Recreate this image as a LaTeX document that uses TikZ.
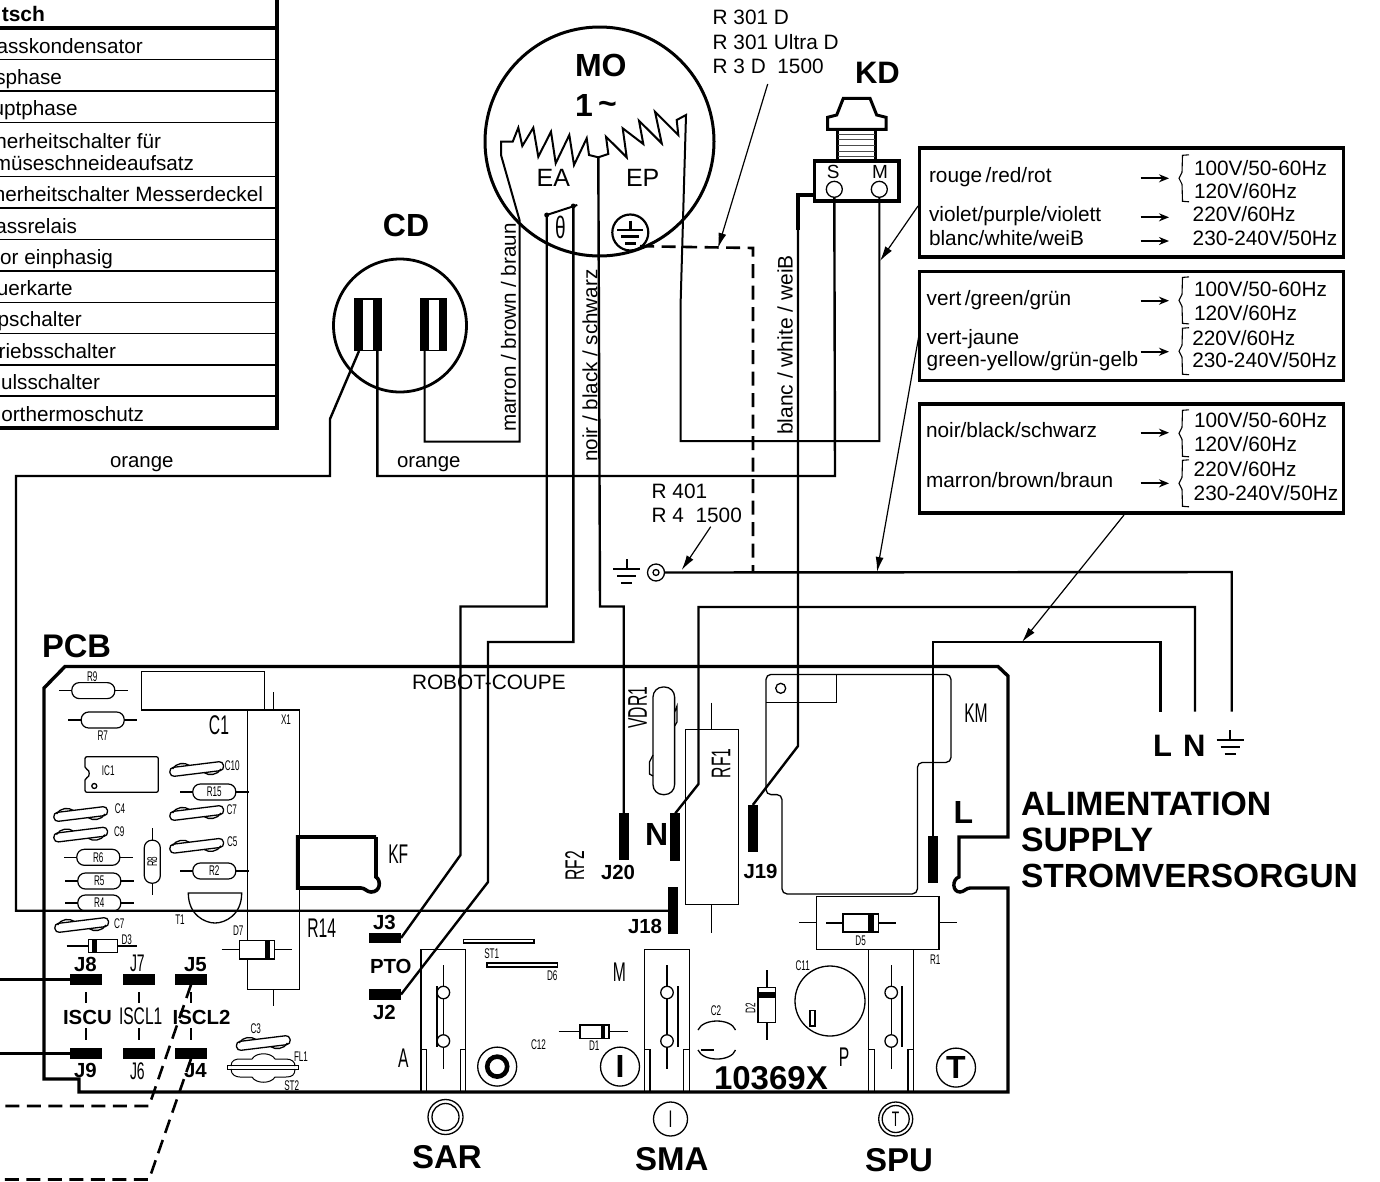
\documentclass[tikz,border=0pt]{standalone}
\usepackage{fontspec}
\usepackage{graphicx}
\setmainfont{Liberation Sans}
\usetikzlibrary{arrows.meta,calc}
\newcommand{\lettre}[1]{\scalebox{0.58}[1]{#1}}
\tikzstyle{wire}  =[line width=2.4pt, line join=miter]
\tikzstyle{dashwire}=[line width=2.6pt, dash pattern=on 14pt off 7.5pt]
\tikzstyle{heavy}=[line width=3.4pt, line join=miter]
\tikzstyle{fine}  =[line width=1.3pt]
\tikzstyle{pointer}=[line width=1.2pt, -{Latex[length=15pt,width=8pt]}]
\tikzstyle{smallarrow}=[line width=2pt, -{Stealth[length=10pt,width=8pt]}]
\tikzstyle{txt}   =[inner sep=0pt, outer sep=0pt, anchor=base west, font=\fontsize{20.8}{24}\selectfont]
\tikzstyle{cell}  =[inner sep=0pt, outer sep=0pt, anchor=base east, font=\fontsize{20.7}{24}\selectfont]
\tikzstyle{side}  =[inner sep=0pt, outer sep=0pt, rotate=90, font=\fontsize{20.6}{24}\selectfont]
\tikzstyle{jlab}  =[inner sep=0pt, outer sep=0pt, anchor=base west, font=\fontsize{20.4}{24}\bfseries]
\tikzstyle{big}   =[inner sep=0pt, outer sep=0pt, anchor=base west, font=\fontsize{33}{36}\bfseries]
\tikzstyle{mini}  =[inner sep=0pt, outer sep=0pt, font=\fontsize{14}{16}\selectfont]
\tikzstyle{maxi}  =[inner sep=0pt, outer sep=0pt, font=\fontsize{27}{30}\selectfont]
\tikzstyle{padh}  =[fill=black, inner sep=0pt, outer sep=0pt, minimum width=32pt, minimum height=10.5pt]
\tikzstyle{padv}  =[fill=black, inner sep=0pt, outer sep=0pt, minimum width=10pt, minimum height=47.5pt]
\tikzstyle{ring}  =[circle, draw, inner sep=0pt, outer sep=0pt, line width=1.3pt]
\tikzstyle{blob}  =[circle, fill=black, inner sep=0pt, outer sep=0pt, minimum size=5pt]
\tikzstyle{resistor}=[draw, rounded corners=7.5pt, inner sep=0pt, outer sep=0pt, minimum width=43pt, minimum height=16pt, line width=1.2pt, font=\fontsize{14}{16}\selectfont]
\tikzstyle{colorbox}=[draw, inner sep=0pt, outer sep=0pt, minimum width=424pt, minimum height=109pt, line width=3.4pt]
\tikzset{
  capa/.pic={
    \draw [fine, rounded corners=4pt] (-27,-4.5) rectangle (27,4.5);
    \draw [fine] (-24,-3) .. controls (-20,-8.5) and (-11,-8.5) .. (-7,-4.5);
    \draw [fine] (24,3) .. controls (20,8.5) and (11,8.5) .. (7,4.5);
  },
  bracket/.pic={
    \draw [line width=1.1pt] (10,-23.5) -- (3.5,-23) -- (3,-6) -- (0,0) -- (3,6) -- (3.5,23) -- (10,23.5);
  },
  ground/.pic={
    \draw [wire] (0,-10) -- (0,0) (-13.5,0) -- (13.5,0) (-9.5,7) -- (9.5,7) (-5.5,14) -- (5.5,14);
  },
  diodeh/.pic={
    \draw [fine, fill=white] (-16,-7) rectangle (16,7);
    \fill (7,-7) rectangle (12,7);
  },
}
\begin{document}
\begin{tikzpicture}[x=1pt,y=-1pt]
    \useasboundingbox (0,0) rectangle (1380,1181);

    \begin{scope}[]
        \draw [heavy] (277,0) -- (277,428) -- (0,428) (0,28) -- (277,28);
        \foreach \y in {59.5,91,122.5,176.5,208,239.5,271,302.5,333.5,365,396}
            \draw [fine] (0,\y) -- (277,\y);
        \draw (45,21) node (head) [cell, font=\fontsize{21}{24}\bfseries] {tsch};
        \foreach \t/\x/\y [count=\i] in {asskondensator/142.7/53, sphase/62/84, uptphase/77.7/115,
            herheitschalter für/161/148, müseschneideaufsatz/194/170,
            herheitschalter Messerdeckel/263/201, assrelais/77/233, or einphasig/113/264,
            uerkarte/72.7/295, pschalter/81.7/326.5, riebsschalter/116/358, ulsschalter/100/389,
            orthermoschutz/144/421}
            \draw (\x,\y) node (row\i) [cell] {\t};
    \end{scope}

    \begin{scope}[]
        \draw (599.5,141.5) node (mo) [ring, line width=3pt, minimum size=229pt] {};
        \draw (630.3,232.5) node (moearth) [ring, line width=2.2pt, minimum size=36pt] {};
        \path (630.3,230) pic [scale=0.95] {ground};
        \draw (400,325.5) node (cd) [ring, line width=2.8pt, minimum size=133pt] {};
        \draw (368,324.7) node (cd1) [fill=black, inner sep=0pt, outer sep=0pt, minimum width=28pt, minimum height=53pt] {};
        \draw (368,324.7) node (cd1w) [fill=white, inner sep=0pt, outer sep=0pt, minimum width=10.5pt, minimum height=50pt] {};
        \draw (433.7,324.7) node (cd2) [fill=black, inner sep=0pt, outer sep=0pt, minimum width=27.5pt, minimum height=53pt] {};
        \draw (434.3,324.7) node (cd2w) [fill=white, inner sep=0pt, outer sep=0pt, minimum width=10pt, minimum height=50pt] {};
        \coordinate (cd1a) at (359,351);
        \coordinate (cd1b) at (377.3,351);
        \coordinate (cd2a) at (424.7,351);
        \coordinate (th1) at (546.7,215);
        \coordinate (th2) at (573.3,206);
        \coordinate (mid) at (598.3,157.3);
        \draw (th1) node (blob1) [blob] {};
        \draw (th2) node (blob2) [blob] {};

        \draw (575,76.7) node (tmo) [big, font=\fontsize{32}{36}\bfseries] {MO};
        \draw (575,116.7) node (tone) [big, font=\fontsize{32}{36}\bfseries] {1\,\raisebox{2pt}{\textasciitilde}};
        \draw (536.7,186.7) node (tea) [txt, font=\fontsize{25}{28}\selectfont] {EA};
        \draw (626,186.7) node (tep) [txt, font=\fontsize{25}{28}\selectfont] {EP};
        \draw (560.3,227.5) node (ttheta) [inner sep=0pt, font=\fontsize{20}{24}\selectfont] {\scalebox{0.95}[1.55]{θ}};
        \draw (406,236) node (tcd) [big, anchor=base, font=\fontsize{32}{36}\bfseries] {CD};
        \draw (855,83) node (tkd) [big, font=\fontsize{31}{36}\bfseries] {KD};
        \draw (712.7,24) node (r1) [txt] {R 301 D};
        \draw (712.7,49) node (r2) [txt] {R 301 Ultra D};
        \draw (712.7,73.3) node (r3) [txt] {R 3 D\ \ 1500};
        \draw (651.7,498) node (r4) [txt] {R 401};
        \draw (651.7,522) node (r5) [txt] {R 4\ \ 1500};
        \draw (508.5,327.5) node (smarron) [side] {marron / brown / braun};
        \draw (590,365.7) node (snoir) [side] {noir / black / schwarz};
        \draw (785,345) node (sblanc) [side, font=\fontsize{21}{24}\selectfont] {blanc / white / weiB};
        \draw (110,467) node (o1) [txt, font=\fontsize{20.4}{24}\selectfont] {orange};
        \draw (397,467) node (o2) [txt, font=\fontsize{20.4}{24}\selectfont] {orange};
    \end{scope}

    \begin{scope}[]
        \draw [heavy, fill=white, line width=3pt] (843.3,98.3) -- (870,98.3) -- (876.7,115) -- (886,117.3) -- (886,129.3) -- (827.7,129.3) -- (827.7,117.3) -- (836.7,115) -- cycle;
        \draw [heavy, line width=3pt] (837.7,129.3) rectangle (875.7,161);
        \foreach \y in {134,139.5,145.5,151.5,156.5}
            \draw [line width=0.8pt, black!70] (838,\y) -- (875,\y);
        \draw [heavy] (814.3,161) rectangle (899,201);
        \draw (833.3,178.5) node (ts) [txt, anchor=base, font=\fontsize{19}{22}\selectfont] {S};
        \draw (880,178.5) node (tm) [txt, anchor=base, font=\fontsize{19}{22}\selectfont] {M};
        \draw (834.3,189.3) node (kds) [ring, minimum size=16pt] {};
        \draw (879.3,189.3) node (kdm) [ring, minimum size=16pt] {};
        \coordinate (kdw) at (814.3,195);
        \draw [line width=4.6pt, line join=miter] (kdw) -- (798,195) -- (798,230);
    \end{scope}

    \begin{scope}[]
        \draw (919.3,148) ++(212,54.5) node (box1) [colorbox] {};
        \draw (929,182.3) node (a1) [txt] {rouge\,/red/rot};
        \draw (929,221.7) node (a2) [txt] {violet/purple/violett};
        \draw (929,245) node (a3) [txt] {blanc/white/weiB};
        \draw (1194,175) node (a4) [txt] {100V/50-60Hz};
        \draw (1194,198.3) node (a5) [txt] {120V/60Hz};
        \draw (1192.7,221.7) node (a6) [txt] {220V/60Hz};
        \draw (1192.7,245.7) node (a7) [txt] {230-240V/50Hz};

        \draw (919.3,271.5) ++(212,54.5) node (box2) [colorbox] {};
        \draw (926.7,305.7) node (b1) [txt] {vert\,/green/grün};
        \draw (926.7,344) node (b2) [txt] {vert-jaune};
        \draw (926.7,366.7) node (b3) [txt] {green-yellow/grün-gelb};
        \draw (1194,296.7) node (b4) [txt] {100V/50-60Hz};
        \draw (1194,320) node (b5) [txt] {120V/60Hz};
        \draw (1192.3,345) node (b6) [txt] {220V/60Hz};
        \draw (1192.3,367.7) node (b7) [txt] {230-240V/50Hz};

        \draw (919.3,404) ++(212,54.5) node (box3) [colorbox] {};
        \draw (926,437.3) node (c1) [txt] {noir/black/schwarz};
        \draw (926,487.7) node (c2) [txt] {marron/brown/braun};
        \draw (1194,427.7) node (c4) [txt] {100V/50-60Hz};
        \draw (1194,451.7) node (c5) [txt] {120V/60Hz};
        \draw (1193.7,476) node (c6) [txt] {220V/60Hz};
        \draw (1193.7,500) node (c7) [txt] {230-240V/50Hz};

        \foreach \y in {178.3,217.3,241,300.7,351.7,432.7,483.3}
            \draw [smallarrow] (1140.7,\y) -- (1169,\y);
        \foreach \y in {178.3,300.4,351.2,433.3,483.3}
            \path (1179,\y) pic {bracket};
    \end{scope}

    \begin{scope}[]
        \path (626.7,569) pic {ground};
        \draw (656,572.5) node (eye) [ring, minimum size=17pt] {};
        \draw (656,572.5) node (eyein) [ring, minimum size=6pt] {};
        \path (1230,740) pic {ground};
        \coordinate (el) at (1160.3,711.5);
        \coordinate (en) at (1195,711.5);
        \coordinate (ee) at (1231.7,711.5);
        \draw (1153,756) node (tl) [big, font=\fontsize{31}{36}\bfseries] {L};
        \draw (1183,756) node (tn) [big, font=\fontsize{31}{36}\bfseries] {N};
        \draw (1021,815) node (s1) [big, font=\fontsize{33.8}{36}\bfseries] {ALIMENTATION};
        \draw (1021,851.7) node (s2) [big, font=\fontsize{33.8}{36}\bfseries] {SUPPLY};
        \draw (1021,887.7) node (s3) [big, font=\fontsize{33.5}{36}\bfseries] {STROMVERSORGUN};
        \draw (42,657) node (tpcb) [big, font=\fontsize{32.7}{36}\bfseries] {PCB};
    \end{scope}

    \begin{scope}[]
        \draw [heavy] (44,688) -- (65,666.5) -- (998,666.5) -- (1008,676) -- (1008,837) -- (959,837) -- (959,877)
            .. controls (952,879) and (952,892) .. (960,892) .. controls (964,892) and (966,888) .. (970,888)
            -- (1008,888) -- (1008,1092) -- (79,1092) -- (79,1079) -- (44,1079) -- cycle;

        \draw (412,689) node (trobot) [txt] {ROBOT-COUPE};
        \draw (714,1089.6) node (tnum) [big] {10369X};

        \draw [fine] (141.7,671.3) rectangle (264.3,710);
        \draw [fine] (247.3,710) rectangle (299.3,989.4);
        \draw [fine] (273.3,692) -- (273.3,710) (273.3,989.4) -- (273.3,1006.3);
        \draw [fine, rounded corners=2pt] (85,756.7) -- (158.3,756.7) -- (158.3,792.3) -- (85,792.3) -- (85,778)
            .. controls (90,777) and (90,770) .. (85,769) -- cycle;
        \draw (94.3,786) node (ic) [ring, minimum size=5pt] {};

        \foreach \n/\x/\y/\t in {r9/93.3/690.6/{}, r7/102.7/720/{}, r15/214.3/792/\lettre{R15}, r6/98.3/857.3/\lettre{R6},
            r5/99.3/881/\lettre{R5}, r2/214.3/871/\lettre{R2}, r4/99.3/903/\lettre{R4}}
        {
            \draw (\x,\y) node (\n) [resistor] {\t};
            \draw [fine] (\n.west) -- ++(-13,0) (\n.east) -- ++(13,0);
        }
        \draw (152.3,861.7) node (r8) [resistor, rotate=90] {\lettre{R8}};
        \draw [fine] (r8.west) -- ++(0,12) (r8.east) -- ++(0,-12);

        \foreach \x/\y in {196.7/769, 196.7/813, 80.7/814, 80.7/834.6, 196.7/845.8, 81.7/925, 263.3/1043}
            \path (\x,\y) pic [rotate=7] {capa};

        \foreach \t/\x/\y [count=\i] in {R9/92.3/677, R7/102.7/735.7, IC1/108.3/771, C10/232.3/766, C7/231.7/810, C4/120/808.5,
            C9/119.3/832, C5/232.3/841.7, C7/119.3/923.7, C3/255.7/1028.7, FL1/301/1056.4, ST2/291.7/1086,
            X1/286/719.4, T1/180/920, D7/238.3/931, D3/126.7/940, D5/860.6/940.6, R1/935.3/960, D1/594.3/1046,
            C12/538.5/1044.6, C2/716/1010.7, C11/802.7/966, ST1/491.7/954, D6/552.3/976}
            \draw (\x,\y) node (m\i) [mini] {\lettre{\t}};
        \draw (750.4,1008) node (md2) [mini, rotate=90] {\lettre{D2}};

        \foreach \t/\x/\y [count=\i] in {C1/219/725, R14/321.7/927.7, KF/398.3/854.2, KM/976/712.7, M/619.5/972.4, A/403.3/1058, P/844/1057.5}
            \draw (\x,\y) node (x\i) [maxi] {\lettre{\t}};
        \draw (721,763.5) node (xrf1) [maxi, rotate=90] {\lettre{RF1}};
        \draw (574.7,865.8) node (xrf2) [maxi, rotate=90] {\lettre{RF2}};
        \draw (637.7,707.6) node (xvdr) [maxi, rotate=90] {\lettre{VDR1}};

        \draw [line width=3.6pt, line join=miter] (376,837) -- (297.7,837) -- (297.7,888) -- (361,888)
            .. controls (365,888) and (367,892) .. (371,892) .. controls (381,892) and (381,880) .. (376,877) -- (376,837);

        \draw [fine] (188.3,893) -- (241.7,893) .. controls (241.7,915) and (225,923) .. (215,923) .. controls (205,923) and (188.3,915) .. (188.3,893) -- cycle;
        \draw [fine] (221.7,949.8) -- (291.7,949.8);
        \path (257.1,949.8) pic [xscale=1.1, yscale=1.3] {diodeh};
        \draw [fine] (66.7,946) -- (136.7,946);
        \path (103,946) pic [xscale=-0.9, yscale=0.92] {diodeh};
        \draw [fine] (826,923) -- (895.7,923);
        \path (860.6,923) pic [xscale=1.1, yscale=1.3] {diodeh};
        \draw [fine] (558.5,1031.7) -- (628,1031.7);
        \path (594.5,1031.7) pic [xscale=0.9, yscale=0.96] {diodeh};
        \draw [fine] (767,970) -- (767,1040);
        \draw [fine, fill=white] (758,987.7) rectangle (775.5,1022.6);
        \fill (758,992) rectangle (775.5,998);

        \draw [fine] (816.5,896.6) rectangle (939,949.4);
        \draw [fine] (799.3,922.7) -- (816.5,922.7) (939,922.7) -- (957,922.7);

        \draw [fine] (685.6,729.6) rectangle (738.3,904.7);
        \draw [fine] (711.8,702.5) -- (711.8,729.6) (711.8,904.7) -- (711.8,932.8);
        \draw (663.8,740.8) node (vdr) [draw, fine, rounded corners=10pt, inner sep=0pt, minimum width=21.6pt, minimum height=107.6pt] {};
        \draw [fine] (674.6,712) -- (677,706) -- (677,722) -- (674.6,726);
        \draw [fine] (653,755) -- (649.5,762) -- (649.5,774) -- (653,776);

        \draw [fine, rounded corners=5pt] (766,674.4) -- (951,674.4) -- (951,762.4) -- (917.4,762.4) -- (917.4,893.9) -- (782,893.9) -- (782,794.6) -- (766,794.6) -- cycle;
        \draw [fine] (766,702.5) -- (836.5,702.5) -- (836.5,674.4);
        \draw (780.7,688.3) node (kmhole) [ring, minimum size=10pt] {};

        \draw [fine] (698,1030) .. controls (703,1018) and (731,1018) .. (735.5,1030);
        \draw [fine] (698,1050) .. controls (703,1062) and (731,1062) .. (735.5,1050);
        \draw [line width=2.8pt] (701,1050) -- (714,1050);
        \draw (830,1001) node (c11) [ring, minimum size=70pt] {};
        \draw [fine] (810,1010.7) rectangle (815,1026);

        \draw [fine] (463.3,939.6) rectangle (534,943);
        \draw [fine] (487,963) rectangle (557.5,967);

        \draw [line width=1pt] (231,1066) .. controls (231,1060) and (236,1059) .. (240,1059) -- (252,1059)
            .. controls (256,1052) and (271,1052) .. (275,1059) -- (286,1059) .. controls (292,1059) and (295,1062) .. (295,1066);
        \draw [line width=1pt] (231,1069) .. controls (231,1075) and (236,1077) .. (240,1077) -- (252,1077)
            .. controls (256,1084) and (271,1084) .. (275,1077) -- (286,1077) .. controls (292,1077) and (295,1075) .. (295,1069);
        \draw [fine] (227.7,1065.6) rectangle (298.3,1069.3);

        \foreach \x/\b [count=\i] in {421/15.7, 644.6/33.4, 868.8/33.2}
        {
            \draw [fine] (\x,1092) -- (\x,949.7) -- ({\x+44.7},949.7) -- ({\x+44.7},1092);
            \draw [fine] ({\x+5.5},1092) -- ({\x+5.5},1049.7) -- (\x,1049.7);
            \draw [fine] ({\x+39.2},1092) -- ({\x+39.2},1049.7) -- ({\x+44.7},1049.7);
            \draw [fine] ({\x+22.4},965) -- ({\x+22.4},1069);
            \draw ({\x+22.4},992.5) node (spa\i) [ring, fill=white, minimum size=12.5pt] {};
            \draw ({\x+22.4},1041) node (spb\i) [ring, fill=white, minimum size=12.5pt] {};
            \draw [line width=2.4pt] ({\x+\b},986) -- ({\x+\b},1047);
        }

        \draw (497.2,1066.6) node (so) [ring, minimum size=39pt] {};
        \draw (497.2,1066.6) node (soin) [ring, line width=4.6pt, minimum size=20pt] {};
        \draw (620,1066.6) node (si) [ring, minimum size=39pt, font=\fontsize{32}{36}\bfseries] {I};
        \draw (956,1067.6) node (st) [ring, minimum size=39pt, font=\fontsize{32}{36}\bfseries] {T};

        \draw (445.5,1117) node (sar) [ring, minimum size=35pt] {};
        \draw (445.5,1117) node (sarin) [ring, minimum size=27pt] {};
        \draw (670.5,1119) node (sma) [ring, minimum size=34pt, font=\fontsize{24}{26}\selectfont] {\lettre{I}};
        \draw (895.7,1119) node (spu) [ring, minimum size=34pt] {};
        \draw (895.7,1119) node (spuin) [ring, minimum size=27pt, font=\fontsize{21}{24}\selectfont] {\lettre{T}};
        \draw (412,1168) node (tsar) [big] {SAR};
        \draw (635,1170) node (tsma) [big] {SMA};
        \draw (865,1171) node (tspu) [big] {SPU};

        \draw (953.5,823.4) node (tll) [big, font=\fontsize{32}{36}\bfseries] {L};
        \draw (645,845.8) node (tnn) [big, font=\fontsize{32}{36}\bfseries] {N};
    \end{scope}

    \begin{scope}[]
        \foreach \n/\x/\y in {j8/86/979.5, j7/138.7/979.5, j5/191/979.5, j9/86/1053.5, j6/138.7/1053.5, j4/191/1053.5, j3/385/938, j2/385/994.5}
            \draw (\x,\y) node (\n) [padh] {};
        \foreach \n/\x/\y in {j20/623.7/836.5, jn/675.3/837, j19/752.8/828.7, j18/673.2/910.7, jl/933/859.7}
            \draw (\x,\y) node (\n) [padv] {};
        \foreach \x in {86,138.7,191}
            \draw [wire] (\x,992) -- (\x,1003) (\x,1028) -- (\x,1040);

        \foreach \t/\x/\y [count=\i] in {J3/373/929.4, PTO/370/973.5, J2/373/1019, J8/74/971.8, J5/184/971.8, J9/74/1077.5, J4/184/1077.5,
            J20/601/879.6, J19/743.5/878, J18/628/933.8, ISCU/63/1024, ISCL2/172.6/1024}
            \draw (\x,\y) node (jt\i) [jlab] {\t};
        \draw (130,971.8) node (tj7) [jlab, font=\fontsize{24}{26}\selectfont] {\lettre{J7}};
        \draw (130,1079.5) node (tj6) [jlab, font=\fontsize{24}{26}\selectfont] {\lettre{J6}};
        \draw (119,1024) node (tiscl) [jlab, font=\fontsize{24}{26}\selectfont] {\scalebox{0.65}[1]{ISCL1}};
    \end{scope}

    \begin{scope}[]
        \coordinate (lefta) at (0,979.5);
        \coordinate (leftb) at (0,1053.5);
        \coordinate (leftc) at (0,1106);
        \coordinate (leftd) at (0,1179.5);
        \draw [wire] (lefta) -- (j8.west);
        \draw [wire] (leftb) -- (j9.west);
        \draw [dashwire] (j5.south) -- (149,1106) -- (leftc);
        \draw [dashwire] (j4.south) -- (149,1179.5) -- (leftd);

        \draw [wire] (cd1a) -- (330,419) -- (330,476) -- (16,476) -- (16,910.7) -- (j18.west);
        \draw [wire] (cd1b) -- (377.3,476) -- (835,476) -- (kds.south);
        \draw [line width=2pt] (cd2a) -- (424.7,441.7) -- (519.5,441.7) -- (519.5,220) -- (501,155) -- (501,141.7) -- (512.7,141.7)
            -- (518.3,127.7) -- (522.3,146) -- (533.3,127.7) -- (538.3,156.7) -- (551,131.7) -- (555.7,163.3) -- (569.3,135)
            -- (574,165) -- (586.7,138.3) -- (589,155) -- (mid) -- (608.3,154) -- (606,136.7) -- (626.7,157.3) -- (622.7,128.3)
            -- (643.3,144) -- (639,120.7) -- (661.7,143.3) -- (655,111.7) -- (678.3,135) -- (676.7,120) -- (686,115)
            -- (680.7,300) -- (680.7,441) -- (879.3,441) -- (kdm.south);
        \draw [wire] (th1) -- (546.7,606.5) -- (460.5,606.5) -- (460.5,855) -- (j3.east);
        \draw [wire] (th2) -- (573.3,642) -- (488,642) -- (488,882) -- (j2.east);
        \draw [line width=2pt] (th1) -- (577.3,205);
        \draw [wire] (mid) -- (600,606.5) -- (623.7,606.5) -- (j20.north);
        \draw [wire] (798,230) -- (798,746) -- (j19.north);
        \draw [wire] (en) -- (1195,607) -- (698.5,607) -- (698.5,784) -- (jn.north);
        \draw [wire] (el) -- (1160.3,642) -- (933,642) -- (jl.north);
        \draw [wire] (ee) -- (1231.7,572) -- (eye.east);
        \draw [dashwire] (moearth.south east) ++(-3,1) -- (753,248) -- (753,572);

        \coordinate (p1) at (767.7,84);
        \coordinate (p1e) at (718,248);
        \coordinate (p2) at (918,206);
        \coordinate (p2e) at (880,261);
        \coordinate (p3) at (919,335);
        \coordinate (p3e) at (877,572);
        \coordinate (p4) at (1124,515);
        \coordinate (p4e) at (1022,642);
        \coordinate (p5) at (710.7,526.7);
        \coordinate (p5e) at (681.7,570);
        \foreach \i/\j in {p1/p1e,p2/p2e,p3/p3e,p4/p4e,p5/p5e}
            \draw [pointer] (\i) -- (\j);
    \end{scope}

\end{tikzpicture}
\end{document}
